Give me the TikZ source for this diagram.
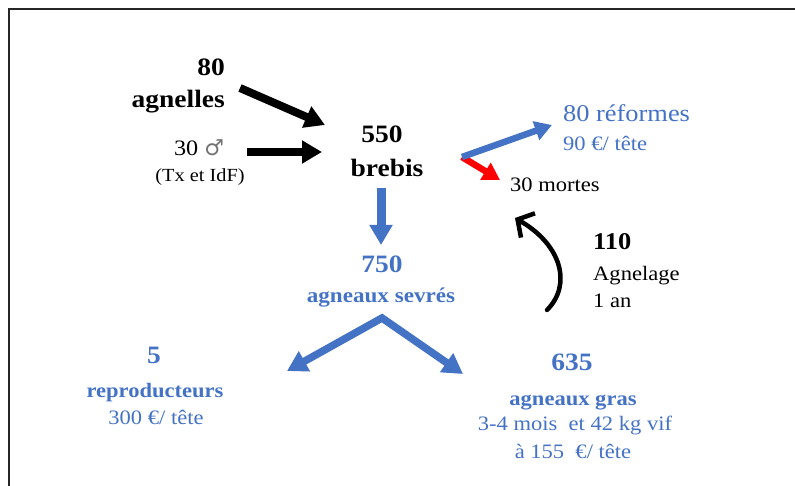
\documentclass[tikz,border=0pt]{standalone}
\usepackage{fontspec}
\setmainfont[FakeStretch=1.1]{Liberation Serif}
\newfontfamily\symbfont{DejaVu Sans}
\usetikzlibrary{arrows.meta}
\definecolor{ovblue}{HTML}{4472C4}
\newcommand{\fs}[1]{\fontsize{#1}{#1}\selectfont}
\begin{document}
\begin{tikzpicture}[x=1pt, y=-1pt,
        every node/.style={inner sep=0pt},
        bignum/.style={font=\fs{25}\bfseries},
        lbl/.style={font=\fs{20.5}\bfseries},
        txt/.style={font=\fs{20.5}},
        fat/.style={line width=8pt, -{Triangle[length=20pt,width=22pt]}},
        thinfat/.style={line width=6.5pt, -{Triangle[length=17pt,width=19pt]}}]
        \useasboundingbox (0,0) rectangle (795,486);
        \draw[line width=2pt, black!85] (9,486) -- (9,9) -- (795,9);
        % textes
        \node[bignum, anchor=base east] (n80) at (225,76) {80};
        \node[bignum, anchor=base east] (agnelles) at (225,108) {agnelles};
        \node[font=\fs{22}, anchor=base] (males) at (199,156) {30 {\symbfont\color{black!55}♂}};
        \node[font=\fs{18.5}, anchor=base] (txidf) at (200,182) {(Tx et IdF)};
        \node[bignum, anchor=base] (n550) at (382,143) {550};
        \node[bignum, anchor=base] (brebis) at (387,177) {brebis};
        \node[font=\fs{24}, ovblue, anchor=base west] (reformes) at (563,122) {80 réformes};
        \node[txt, ovblue, anchor=base west] (prixref) at (563,151) {90 €/ tête};
        \node[txt, anchor=base west] (mortes) at (510,192) {30 mortes};
        \node[bignum, font=\fs{24}\bfseries, anchor=base west] (n110) at (593,250) {110};
        \node[txt, anchor=base west] (agnelage) at (593,280) {Agnelage};
        \node[txt, anchor=base west] (duree) at (593,308) {1 an};
        \node[bignum, ovblue, anchor=base] (n750) at (382,273) {750};
        \node[lbl, font=\fs{21}\bfseries, ovblue, anchor=base] (sevres) at (381,303) {agneaux sevrés};
        \node[bignum, ovblue, anchor=base] (n5) at (154,363) {5};
        \node[lbl, ovblue, anchor=base] (repro) at (155,397) {reproducteurs};
        \node[txt, ovblue, anchor=base] (prixrepro) at (156,424) {300 €/ tête};
        \node[bignum, ovblue, anchor=base] (n635) at (572,370) {635};
        \node[lbl, ovblue, anchor=base] (gras) at (573,405) {agneaux gras};
        \node[txt, ovblue, anchor=base] (poids) at (575,430) {3-4 mois~ et 42 kg vif};
        \node[txt, ovblue, anchor=base] (prixgras) at (573,458) {à 155~ €/ tête};
        % extremites des fleches
        \coordinate (agnellesOut) at (240,88);
        \coordinate (brebisInA) at (325,125);
        \coordinate (malesOut) at (247,152);
        \coordinate (brebisInB) at (322,152);
        \coordinate (brebisDown) at (381,188);
        \coordinate (sevresIn) at (381,245);
        \coordinate (brebisOut) at (462,157);
        \coordinate (reformesIn) at (552,125);
        \coordinate (mortesIn) at (500,180);
        \coordinate (sevresOut) at (382,318);
        \coordinate (reproIn) at (287,371);
        \coordinate (grasIn) at (463,374);
        \coordinate (agnelageOut) at (547,310);
        \coordinate (mortesUp) at (515,218);
        % fleches
        \draw[fat] (agnellesOut) -- (brebisInA);
        \draw[fat] (malesOut) -- (brebisInB);
        \draw[fat, ovblue, line width=9pt] (brebisDown) -- (sevresIn);
        \draw[thinfat, red] (brebisOut) -- (mortesIn);
        \draw[thinfat, ovblue] (brebisOut) -- (reformesIn);
        \draw[ovblue, line width=7.5pt, line join=miter, {Triangle[length=20pt,width=22pt]}-{Triangle[length=20pt,width=22pt]}] (reproIn) -- (sevresOut) -- (grasIn);
        \draw[line width=4.5pt, line cap=round, -{Straight Barb[length=12pt,width=28pt]}] (agnelageOut) .. controls (572,285) and (562,245) .. (mortesUp);
    \end{tikzpicture}
\end{document}
